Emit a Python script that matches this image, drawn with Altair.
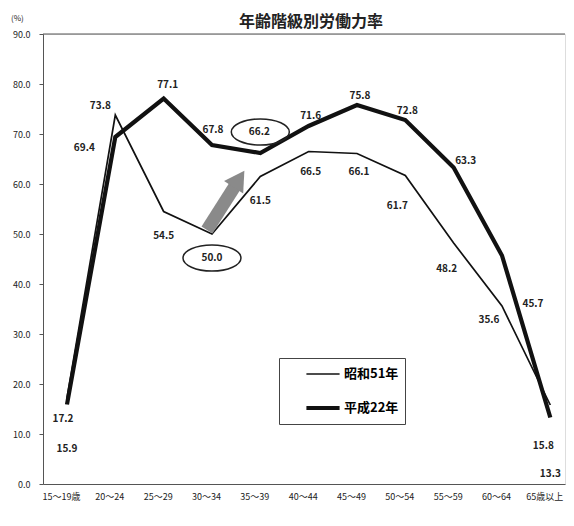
import altair as alt
import pandas as pd

ages = ["15～19歳", "20～24", "25～29", "30～34", "35～39", "40～44",
        "45～49", "50～54", "55～59", "60～64", "65歳以上"]
s51 = [17.2, 73.8, 54.5, 50.0, 61.5, 66.5, 66.1, 61.7, 48.2, 35.6, 15.8]
h22 = [15.9, 69.4, 77.1, 67.8, 66.2, 71.6, 75.8, 72.8, 63.3, 45.7, 13.3]
series = ["昭和51年", "平成22年"]
title_text = "年齢階級別労働力率"
unit_text = "(%)"

# label placement (pixel offsets from each point)
s51_off = [(-4, 21), (-15, -9), (0, 24), (0, 24), (0, 24), (2, 20),
           (2, 18), (-8, 30), (-7, 26), (-13, 14), (-7, 41)]
h22_off = [(0, 44), (-31, 11), (4, -14), (1, -15), (-1, -21), (2, -10),
           (3, -9), (2, -9), (12, -7), (31, 48), (0, 56)]
circled = {("昭和51年", 3): 24, ("平成22年", 4): -21}

FONT = "Noto Sans CJK JP"
W, H = 522, 450

rows = []
for name, vals in zip(series, [s51, h22]):
    for i, (a, v) in enumerate(zip(ages, vals)):
        rows.append({"age": a, "rate": v, "series": name, "idx": i,
                     "label": f"{v:.1f}"})
df = pd.DataFrame(rows)

xenc = alt.X("age:N", sort=ages,
             scale=alt.Scale(type="point", padding=0.4, align=0.62),
             axis=alt.Axis(title=None, ticks=False, labelAngle=0,
                           labelFontSize=9, labelFont=FONT, labelOffset=-6,
                           labelPadding=8, domainColor="#555",
                           labelColor="#222"))
yenc = alt.Y("rate:Q", scale=alt.Scale(domain=[0, 90], nice=False),
             axis=alt.Axis(values=list(range(0, 91, 10)), format=".1f",
                           grid=False, tickSize=4, tickColor="#555",
                           domainColor="#555", labelFontSize=9,
                           labelFont=FONT, labelPadding=9, title=None,
                           labelColor="#222"))

leg = alt.Legend(title=None, orient="none", legendX=236, legendY=324,
                 strokeColor="#444", padding=6, rowPadding=14,
                 clipHeight=20, symbolOffset=19,
                 symbolType="stroke", symbolSize=1100, labelFont=FONT,
                 labelFontSize=13, labelFontWeight="bold", fillColor="white",
                 labelOffset=2, labelExpr="datum.label + '\u3000\u3000\u3000'")

base = alt.Chart(df)

lines = base.mark_line().encode(
    x=xenc, y=yenc,
    color=alt.Color("series:N", sort=series,
                    scale=alt.Scale(domain=series, range=["#111", "#111"]),
                    legend=leg),
    strokeWidth=alt.StrokeWidth("series:N", sort=series,
                                scale=alt.Scale(domain=series, range=[1.7, 4.2]),
                                legend=leg),
)

layers = [lines]
for name, offs in zip(series, [s51_off, h22_off]):
    for i, (dx, dy) in enumerate(offs):
        layers.append(
            base.transform_filter(
                (alt.datum.series == name) & (alt.datum.idx == i)
            ).mark_text(dx=dx, dy=dy, font=FONT, fontSize=10,
                        fontWeight="bold", color="#222").encode(
                x=alt.X("age:N", sort=ages), y="rate:Q", text="label:N")
        )

for (name, i), off in circled.items():
    u = off / 29.0
    path = (f"M-1,{u:.3f} A1,0.45 0 1,1 1,{u:.3f} "
            f"A1,0.45 0 1,1 -1,{u:.3f} Z")
    layers.append(
        base.transform_filter(
            (alt.datum.series == name) & (alt.datum.idx == i)
        ).mark_point(shape=path, size=58 * 58, filled=False, color="#222",
                     strokeWidth=1.5, opacity=1).encode(
            x=alt.X("age:N", sort=ages), y="rate:Q")
    )

# top frame line of the plot area
top = alt.Chart(pd.DataFrame({"v": [90]})).mark_rule(
    color="#555", strokeWidth=1).encode(y=alt.Y("v:Q"))
layers.append(top)

# grey upward arrow annotation
arrow_shaft = alt.Chart(pd.DataFrame({"a": [0]})).mark_rule(
    color="#8a8a8a", strokeWidth=13).encode(
    x=alt.value(164), y=alt.value(196), x2=alt.value(192), y2=alt.value(152))
arrow_head = alt.Chart(pd.DataFrame({"a": [0]})).mark_point(
    shape="triangle-up", filled=True, color="#8a8a8a", size=520,
    angle=33, opacity=1).encode(x=alt.value(196), y=alt.value(145))
layers += [arrow_shaft, arrow_head]

# chart title and unit as text
title_mark = alt.Chart(pd.DataFrame({"t": [title_text]})).mark_text(
    font=FONT, fontSize=16, fontWeight="bold", color="#222",
    baseline="middle", align="center").encode(
    text="t:N", x=alt.value(268), y=alt.value(-12))
unit_mark = alt.Chart(pd.DataFrame({"t": [unit_text]})).mark_text(
    font=FONT, fontSize=8, color="#222", baseline="middle",
    align="left").encode(text="t:N", x=alt.value(-32), y=alt.value(-15))
layers += [title_mark, unit_mark]

chart = alt.layer(*layers).properties(
    width=W, height=H,
    padding={"left": 3, "top": 6, "right": 0, "bottom": 5},
).configure_view(stroke=None).configure(font=FONT)

chart.save("out.html", embed_options={"renderer": "svg", "actions": False})
